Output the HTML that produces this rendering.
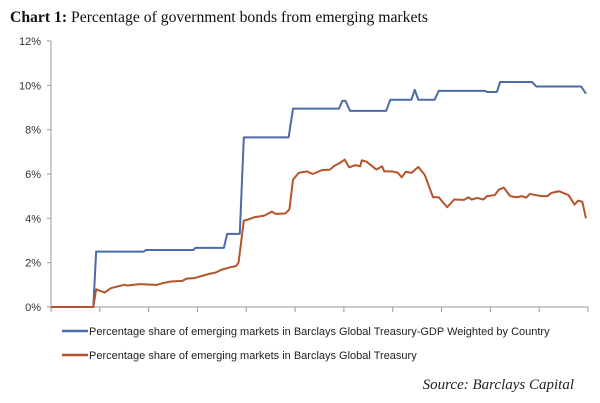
<!DOCTYPE html>
<html><head><meta charset="utf-8"><style>
body{margin:0;background:#fff;width:600px;height:403px;overflow:hidden}
svg{display:block}
</style></head><body>
<svg id="chart" width="600" height="403" xmlns="http://www.w3.org/2000/svg">
<text x="10" y="22" font-family="Liberation Serif, serif" font-size="15.7" fill="#111"><tspan font-weight="bold">Chart 1:</tspan> Percentage of government bonds from emerging markets</text>
<g id="axes"></g>
<g id="series"></g>
<g>
<line x1="62" y1="331" x2="88" y2="331" stroke="#4a6aa8" stroke-width="2.5"/>
<text x="89" y="335" font-family="Liberation Sans, sans-serif" font-size="11" fill="#222">Percentage share of emerging markets in Barclays Global Treasury-GDP Weighted by Country</text>
<line x1="62" y1="355" x2="88" y2="355" stroke="#b5532a" stroke-width="2.5"/>
<text x="89" y="359" font-family="Liberation Sans, sans-serif" font-size="11" fill="#222">Percentage share of emerging markets in Barclays Global Treasury</text>
</g>
<text x="574" y="389" text-anchor="end" font-family="Liberation Serif, serif" font-style="italic" font-size="15" fill="#222">Source: Barclays Capital</text>
</svg>
<script>
const yTicks=[0,2,4,6,8,10,12];
const yTickLabels=["0%","2%","4%","6%","8%","10%","12%"];
const xTickMonths=[0,12,24,36,48,60,72,84,96,108,120,132];
const blueMonths=[0,10.4,11.1,22.8,23.3,35,35.5,42.5,43.3,46.4,47.4,58.4,59.5,70.8,71.6,72.4,73.5,82.4,83.4,88.6,89.4,90.3,94.3,95.3,106.7,107.2,109.6,110.4,118.2,119.3,130.3,131.5];
const blueValues=[0,0,2.5,2.5,2.57,2.57,2.67,2.67,3.3,3.3,7.65,7.65,8.95,8.95,9.3,9.3,8.85,8.85,9.35,9.35,9.8,9.35,9.35,9.75,9.75,9.7,9.7,10.15,10.15,9.95,9.95,9.62];
const redMonths=[0,10.4,11.1,13.2,14.7,18,18.8,21.8,26.1,27.5,29.5,32.3,33.3,35.2,37.1,39,40.4,41.9,43.8,45.5,46.1,47.4,48.5,50,52.4,54.3,55.2,57.6,58.6,59.5,60.9,62.9,64.3,66.7,68.6,69.5,71,72.2,73.3,74.8,76,76.4,77.6,80,81.4,81.9,83.8,85.3,86.2,87.2,88.6,90.3,91.9,93.9,95.3,97.4,99.1,101.5,102.6,103.4,104.8,106.3,107.2,109.1,110.1,111.3,112.9,114.4,115.8,116.8,117.7,119.1,120.6,122,123,124.9,127.2,128.7,129.6,130.6,131.5];
const redValues=[0,0,0.8,0.65,0.85,1.0,0.97,1.03,1.0,1.08,1.15,1.18,1.28,1.3,1.4,1.5,1.55,1.68,1.78,1.85,2.0,3.9,3.95,4.05,4.12,4.3,4.2,4.22,4.4,5.75,6.05,6.12,6.0,6.18,6.2,6.35,6.5,6.65,6.3,6.4,6.35,6.62,6.55,6.2,6.35,6.12,6.12,6.05,5.85,6.1,6.05,6.32,5.95,4.95,4.95,4.5,4.85,4.83,4.95,4.85,4.92,4.85,5.0,5.05,5.3,5.38,5.0,4.95,5.0,4.93,5.1,5.05,5.0,5.0,5.15,5.22,5.05,4.62,4.8,4.75,4.0];
const X0=51,X1=588,Y0=307,Y1=41;
const xs=m=>X0+(X1-X0)*m/132;
const ys=v=>Y0-(Y0-Y1)*v/12;
const NS="http://www.w3.org/2000/svg";
const axes=document.getElementById('axes');
function mk(tag,attrs,parent){const e=document.createElementNS(NS,tag);for(const k in attrs)e.setAttribute(k,attrs[k]);parent.appendChild(e);return e;}
const ya=mk('line',{x1:X0,y1:Y1,x2:X0,y2:Y0,stroke:'#999','stroke-width':1},axes);


const xa=mk('line',{x1:X0,y1:Y0,x2:X1,y2:Y0,stroke:'#999','stroke-width':1},axes);


yTicks.forEach((v,i)=>{
 const t=mk('line',{x1:X0-4,y1:ys(v),x2:X0,y2:ys(v),stroke:'#999'},axes);
 
 
 const l=mk('text',{x:X0-10,y:ys(v)+4,'text-anchor':'end','font-family':'Liberation Sans, sans-serif','font-size':11,fill:'#333'},axes);
 l.textContent=yTickLabels[i];
 
 
});
xTickMonths.forEach(m=>{
 const t=mk('line',{x1:xs(m),y1:Y0,x2:xs(m),y2:Y0+5,stroke:'#999'},axes);
 
 
});
const ser=document.getElementById('series');
const pb=mk('polyline',{points:blueMonths.map((m,i)=>xs(m)+','+ys(blueValues[i])).join(' '),fill:'none',stroke:'#4a6aa8','stroke-width':2,'stroke-linejoin':'round'},ser);


const pr=mk('polyline',{points:redMonths.map((m,i)=>xs(m)+','+ys(redValues[i])).join(' '),fill:'none',stroke:'#b5532a','stroke-width':2,'stroke-linejoin':'round'},ser);


</script>
</body></html>
